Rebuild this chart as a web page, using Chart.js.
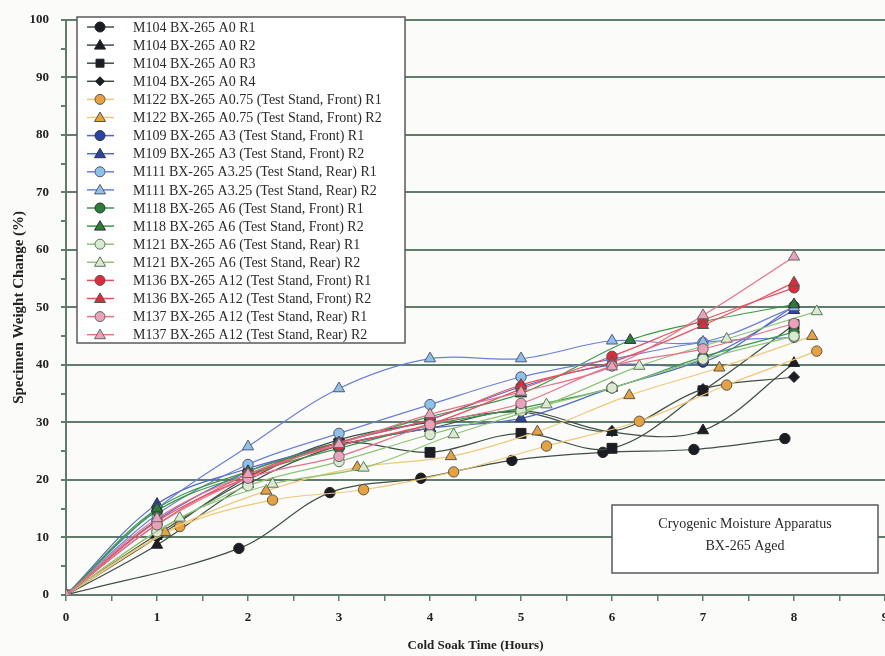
<!DOCTYPE html>
<html>
<head>
<meta charset="utf-8">
<script src="https://cdn.jsdelivr.net/npm/chart.js@4/dist/chart.umd.min.js"></script>
<style>
  body { margin: 0; overflow: hidden; background: #fbfbfa; }
  #wrap { width: 900px; height: 656px; }
</style>
</head>
<body>
<div id="wrap"><canvas id="myChart" width="900" height="656"></canvas></div>
<script>
/* названия серий (легенда) */
const seriesNames = [
      "M104 BX-265 A0 R1",
      "M104 BX-265 A0 R2",
      "M104 BX-265 A0 R3",
      "M104 BX-265 A0 R4",
      "M122 BX-265 A0.75 (Test Stand, Front) R1",
      "M122 BX-265 A0.75 (Test Stand, Front) R2",
      "M109 BX-265 A3 (Test Stand, Front) R1",
      "M109 BX-265 A3 (Test Stand, Front) R2",
      "M111 BX-265 A3.25 (Test Stand, Rear) R1",
      "M111 BX-265 A3.25 (Test Stand, Rear) R2",
      "M118 BX-265 A6 (Test Stand, Front) R1",
      "M118 BX-265 A6 (Test Stand, Front) R2",
      "M121 BX-265 A6 (Test Stand, Rear) R1",
      "M121 BX-265 A6 (Test Stand, Rear) R2",
      "M136 BX-265 A12 (Test Stand, Front) R1",
      "M136 BX-265 A12 (Test Stand, Front) R2",
      "M137 BX-265 A12 (Test Stand, Rear) R1",
      "M137 BX-265 A12 (Test Stand, Rear) R2"
];

/* время замеров (часы) */
const hoursStd   = [0, 1, 2, 3, 4, 5, 6, 7, 8];
const hoursM104R1 = [0, 1.9, 2.9, 3.9, 4.9, 5.9, 6.9, 7.9];
const hoursLate  = [0, 1.25, 2.27, 3.27, 4.26, 5.28, 6.3, 7.26, 8.25];
const hoursM122R2 = [0, 1.09, 2.2, 3.2, 4.23, 5.18, 6.19, 7.18, 8.2];
const hoursM118R2 = [0, 1, 2, 3, 4, 5, 6.2, 7, 8];

/* изменение веса (%) */
const m104r1 = [0, 8.1, 17.8, 20.3, 23.4, 24.8, 25.3, 27.2];
const m104r2 = [0, 8.7, 19.3, 26, 29, 32, 28.3, 28.6, 40.3];
const m104r3 = [0, 10.5, 20, 26.4, 24.8, 28.1, 25.5, 35.5, 47];
const m104r4 = [0, 10, 20.5, 27, 30, 31.8, 28.5, 35.8, 37.9];
const m122r1 = [0, 11.9, 16.5, 18.3, 21.4, 25.9, 30.2, 36.5, 42.4];
const m122r2 = [0, 10.9, 18.1, 22.2, 24.1, 28.4, 34.7, 39.5, 45];
const m109r1 = [0, 13, 21.5, 26.5, 30.5, 36.2, 40, 40.5, 50.2];
const m109r2 = [0, 15.8, 22, 26, 29, 30.7, 36, 41, 49.5];
const m111r1 = [0, 14, 22.7, 28.1, 33.1, 37.9, 41, 43.9, 44.8];
const m111r2 = [0, 15, 25.8, 35.9, 41.1, 41.1, 44.2, 44, 50];
const m118r1 = [0, 14.6, 21, 25.5, 29.5, 32.5, 36, 41.4, 45.7];
const m118r2 = [0, 15, 21.5, 26.5, 31, 35, 44.3, 47.5, 50.5];
const m121r1 = [0, 11, 19, 23.2, 27.9, 32, 36, 41, 45];
const m121r2 = [0, 13.4, 19.3, 22.1, 27.9, 33.1, 39.8, 44.5, 49.3];
const m136r1 = [0, 12.3, 21, 26, 29.7, 35.8, 41.5, 47.8, 53.4];
const m136r2 = [0, 12.8, 20.5, 26.5, 30.5, 36.5, 40.5, 46.9, 54.3];
const m137r1 = [0, 12.2, 20.3, 24.1, 29.6, 33.3, 39.8, 42.8, 47.2];
const m137r2 = [0, 13.3, 21, 26.2, 31.4, 35.3, 39.7, 48.6, 58.8];

const seriesHours = [hoursM104R1, hoursStd, hoursStd, hoursStd, hoursLate, hoursM122R2,
      hoursStd, hoursStd, hoursStd, hoursStd, hoursStd, hoursM118R2, hoursStd, hoursLate,
      hoursStd, hoursStd, hoursStd, hoursStd];
const seriesValues = [m104r1, m104r2, m104r3, m104r4, m122r1, m122r2, m109r1, m109r2,
      m111r1, m111r2, m118r1, m118r2, m121r1, m121r2, m136r1, m136r2, m137r1, m137r2];

/* стили: [линия, заливка маркера, обводка, форма] */
const styles = [
      ["#3f4f44", "#1c1c24", "#222", "circle"],
      ["#3f4f44", "#1c1c24", "#222", "triangle"],
      ["#3f4f44", "#1c1c24", "#222", "rect"],
      ["#3f4f44", "#1c1c24", "#222", "rectRot"],
      ["#f0c878", "#e8a23c", "#555", "circle"],
      ["#f0c878", "#e8a23c", "#555", "triangle"],
      ["#5068c8", "#2c44aa", "#333", "circle"],
      ["#5068c8", "#2c44aa", "#333", "triangle"],
      ["#6a80d8", "#8cc2e8", "#557", "circle"],
      ["#6a80d8", "#8cc2e8", "#557", "triangle"],
      ["#3a9a48", "#2a7e3a", "#333", "circle"],
      ["#3a9a48", "#2a7e3a", "#333", "triangle"],
      ["#8cc474", "#dbe8d2", "#5a7a5a", "circle"],
      ["#8cc474", "#dbe8d2", "#5a7a5a", "triangle"],
      ["#e85060", "#e02a3a", "#555", "circle"],
      ["#e85060", "#e02a3a", "#555", "triangle"],
      ["#e87088", "#eaa2ba", "#666", "circle"],
      ["#e87088", "#eaa2ba", "#666", "triangle"]
];

function markerRadius(shape) {
      if (shape === "rect") return 7;
      if (shape === "rectRot") return 5.5;
      if (shape === "triangle") return 6.5;
      return 5.2;
}

const datasets = seriesNames.map((name, i) => ({
      label: name,
      data: seriesHours[i].map((h, k) => ({ x: h, y: seriesValues[i][k] })),
      borderColor: styles[i][0],
      borderWidth: 1.2,
      backgroundColor: styles[i][1],
      pointBackgroundColor: styles[i][1],
      pointBorderColor: styles[i][2],
      pointBorderWidth: 1,
      pointStyle: styles[i][3],
      pointRadius: markerRadius(styles[i][3]),
      tension: 0.35,
      fill: false,
      order: seriesNames.length - i // последние серии поверх
}));

/* простой маркер для легенды */
function drawMarker(ctx, shape, x, y, r, fill, stroke) {
      ctx.save();
      ctx.fillStyle = fill;
      ctx.strokeStyle = stroke;
      ctx.lineWidth = 1;
      ctx.beginPath();
      if (shape === "circle") {
            ctx.arc(x, y, r, 0, Math.PI * 2);
      } else if (shape === "triangle") {
            ctx.moveTo(x, y - r * 1.1);
            ctx.lineTo(x + r * 1.1, y + r * 0.8);
            ctx.lineTo(x - r * 1.1, y + r * 0.8);
            ctx.closePath();
      } else if (shape === "rect") {
            ctx.rect(x - r * 0.8, y - r * 0.8, r * 1.6, r * 1.6);
      } else {
            ctx.moveTo(x, y - r);
            ctx.lineTo(x + r, y);
            ctx.lineTo(x, y + r);
            ctx.lineTo(x - r, y);
            ctx.closePath();
      }
      ctx.fill();
      ctx.stroke();
      ctx.restore();
}

/* легенда внутри графика и подпись в рамке */
const boxesPlugin = {
      id: "boxes",
      afterDatasetsDraw(chart) {
            const ctx = chart.ctx;
            ctx.save();
            // легенда
            ctx.fillStyle = "#ffffff";
            ctx.fillRect(77, 17, 328, 326);
            ctx.strokeStyle = "#5a5a5a";
            ctx.lineWidth = 1.5;
            ctx.strokeRect(77, 17, 328, 326);
            ctx.font = "14px 'Liberation Serif', serif";
            ctx.textBaseline = "middle";
            seriesNames.forEach((name, i) => {
                  const y = 27 + i * 18.1;
                  ctx.strokeStyle = styles[i][0];
                  ctx.lineWidth = 1.5;
                  ctx.beginPath();
                  ctx.moveTo(87, y);
                  ctx.lineTo(114, y);
                  ctx.stroke();
                  drawMarker(ctx, styles[i][3], 100, y, styles[i][3] === "rectRot" ? 4.5 : 5, styles[i][1], styles[i][2]);
                  ctx.fillStyle = "#2a2a2a";
                  ctx.fillText(name, 133, y + 1);
            });
            // подпись
            ctx.fillStyle = "#ffffff";
            ctx.fillRect(612, 505, 266, 68);
            ctx.strokeStyle = "#5a5a5a";
            ctx.lineWidth = 1.5;
            ctx.strokeRect(612, 505, 266, 68);
            ctx.fillStyle = "#2a2a2a";
            ctx.textAlign = "center";
            ctx.fillText("Cryogenic Moisture Apparatus", 745, 524);
            ctx.fillText("BX-265 Aged", 745, 546);
            ctx.restore();
      }
};

const gridColor = "#5f7c6c";

chart = new Chart(document.getElementById("myChart"), {
      type: "line",
      data: { datasets: datasets },
      plugins: [boxesPlugin],
      options: {
            responsive: false,
            animation: false,
            layout: { padding: { left: 0, right: 15, top: 15, bottom: 0 } },
            plugins: {
                  legend: { display: false },
                  tooltip: { enabled: false }
            },
            scales: {
                  x: {
                        type: "linear",
                        min: 0,
                        max: 9,
                        afterFit: (scale) => { scale.height = 61; },
                        ticks: {
                              stepSize: 0.5,
                              autoSkip: false,
                              maxRotation: 0,
                              padding: 9,
                              color: "#222",
                              font: { family: "'Liberation Serif', serif", size: 13, weight: "bold" },
                              callback: (v) => Number.isInteger(v) ? v : ""
                        },
                        grid: { drawOnChartArea: false, drawTicks: true, tickLength: 6, color: gridColor, lineWidth: 1.5 },
                        border: { display: true, color: gridColor, width: 2 },
                        title: {
                              display: true,
                              text: "Cold Soak Time (Hours)",
                              color: "#222",
                              padding: { top: 0, bottom: 3 },
                              font: { family: "'Liberation Serif', serif", size: 13, weight: "bold" }
                        }
                  },
                  y: {
                        min: 0,
                        max: 100,
                        afterFit: (scale) => { scale.width = 66; },
                        ticks: {
                              stepSize: 5,
                              autoSkip: false,
                              padding: 12,
                              color: "#222",
                              font: { family: "'Liberation Serif', serif", size: 13, weight: "bold" },
                              callback: (v) => v % 10 === 0 ? v : ""
                        },
                        grid: {
                              color: (c) => (c.tick && c.tick.value % 10 === 0) ? gridColor : "rgba(0,0,0,0)",
                              tickColor: gridColor,
                              lineWidth: 2,
                              drawTicks: true,
                              tickLength: 5
                        },
                        border: { display: true, color: gridColor, width: 2 },
                        title: {
                              display: true,
                              text: "Specimen Weight Change (%)",
                              color: "#222",
                              padding: { top: 10, bottom: 0 },
                              font: { family: "'Liberation Serif', serif", size: 15, weight: "bold" }
                        }
                  }
            }
      }
});
</script>
</body>
</html>
